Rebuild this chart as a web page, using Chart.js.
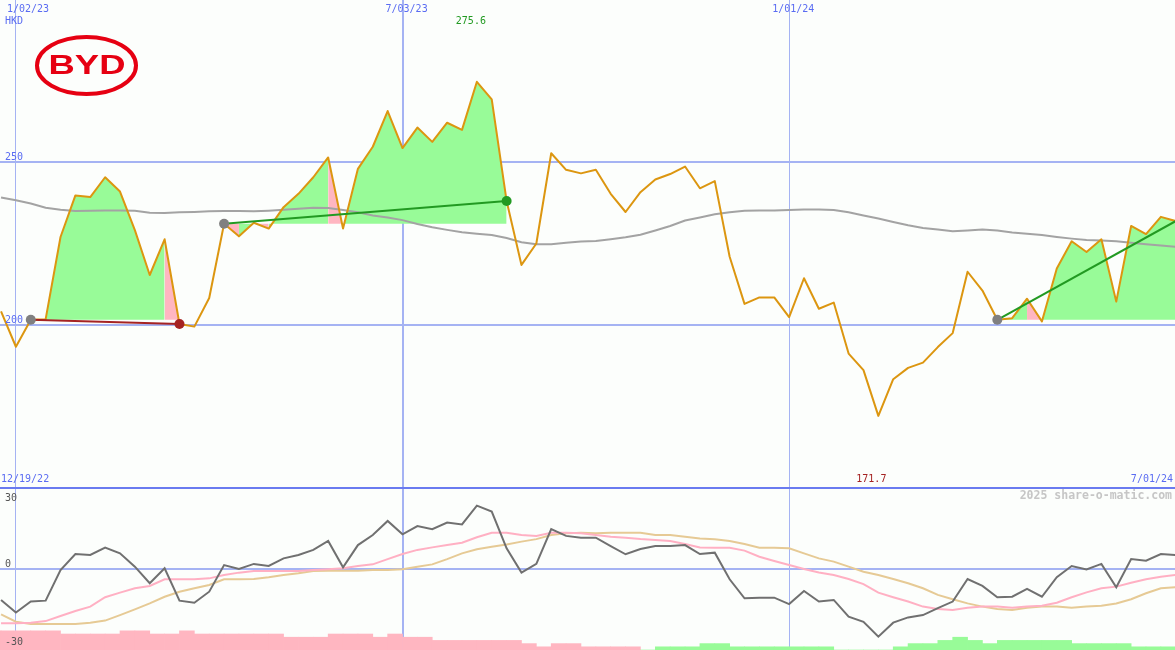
<!DOCTYPE html>
<html>
<head>
<meta charset="utf-8">
<script src="https://cdn.jsdelivr.net/npm/chart.js@4.4.1/dist/chart.umd.min.js"></script>
<style>
  html, body { margin: 0; padding: 0; background: #fcfefc; }
  #wrap { position: relative; width: 1175px; height: 650px; overflow: hidden; }
  #priceChart { position: absolute; left: 0; top: 0; }
  #oscChart { position: absolute; left: 0; top: 487px; }
</style>
</head>
<body>
<div id="wrap">
  <canvas id="priceChart" width="1175" height="487"></canvas>
  <canvas id="oscChart" width="1175" height="163"></canvas>
</div>
<script>
    // week index of first point (week 0 = 1/02/23), one point per week
    const firstWeek = -1;
    const histFirstWeek = -2;

    const closes = [
        204.1, 193.2, 201.5, 201.7, 227.0, 239.8, 239.3, 245.4, 241.0, 229.1,
        215.3, 226.3, 200.2, 199.4, 208.2, 231.1, 227.2, 231.4, 229.6, 236.2,
        240.3, 245.4, 251.5, 229.6, 248.0, 254.8, 265.8, 254.4, 260.7, 256.3,
        262.2, 260.0, 274.8, 269.4, 238.1, 218.4, 225.0, 252.8, 247.7, 246.6,
        247.7, 240.3, 234.7, 240.8, 244.7, 246.4, 248.7, 242.0, 244.2, 220.9,
        206.4, 208.4, 208.4, 202.3, 214.3, 204.9, 206.8, 191.1, 186.0, 171.9,
        183.2, 186.7, 188.3, 193.1, 197.4, 216.3, 210.5, 201.5, 202.0, 208.0,
        201.0, 217.3, 225.7, 222.4, 226.3, 207.1, 230.4, 227.9, 233.2, 231.9
    ];
    const movingAvg = [
        239.2, 238.3, 237.3, 236.0, 235.4, 235.0, 235.1, 235.2, 235.2, 235.1,
        234.5, 234.4, 234.6, 234.7, 234.9, 235.0, 235.0, 234.9, 235.1, 235.4,
        235.7, 236.0, 235.9, 235.3, 234.6, 233.6, 233.0, 232.2, 231.0, 230.0,
        229.2, 228.5, 228.0, 227.6, 226.7, 225.4, 224.8, 224.8, 225.2, 225.6,
        225.8, 226.3, 226.9, 227.7, 229.0, 230.4, 232.1, 233.0, 234.0, 234.6,
        235.1, 235.2, 235.2, 235.3, 235.5, 235.5, 235.3, 234.6, 233.6, 232.7,
        231.6, 230.6, 229.8, 229.3, 228.8, 229.0, 229.3, 229.0, 228.4, 228.0,
        227.6, 227.0, 226.5, 226.1, 225.9, 225.7, 225.2, 224.8, 224.4, 224.0
    ];
    const oscFast = [
        -13.7, -19.2, -14.4, -14.0, -0.7, 6.3, 5.9, 9.1, 6.6, 0.8,
        -6.4, 0.1, -14.0, -14.9, -10.1, 1.5, -0.2, 2.0, 1.1, 4.4,
        5.9, 8.1, 12.0, 0.5, 10.2, 14.6, 20.7, 14.9, 18.5, 17.1,
        20.0, 19.2, 27.4, 24.8, 8.8, -1.8, 2.0, 17.2, 14.2, 13.4,
        13.4, 9.8, 6.2, 8.5, 9.8, 9.8, 10.2, 6.3, 6.9, -4.7,
        -13.0, -12.7, -12.7, -15.5, -9.8, -14.4, -13.7, -21.0, -23.2, -29.7,
        -23.6, -21.3, -20.3, -17.3, -14.4, -4.6, -7.6, -12.5, -12.3, -8.9,
        -12.3, -3.8, 1.1, -0.4, 2.0, -8.2, 4.1, 3.4, 6.3, 5.9
    ];
    const oscMid = [
        -23.9, -23.9, -23.6, -22.9, -20.7, -18.5, -16.6, -12.5, -10.5, -8.6,
        -7.6, -4.7, -4.7, -4.7, -4.3, -2.8, -1.8, -1.1, -1.1, -1.1,
        -1.1, -0.7, -0.3, 0.1, 1.1, 1.8, 4.1, 6.3, 8.1, 9.2,
        10.2, 11.2, 13.6, 15.6, 15.6, 14.6, 14.2, 15.6, 15.6, 15.4,
        14.6, 13.8, 13.4, 12.8, 12.4, 12.0, 10.7, 9.2, 9.0, 9.0,
        7.8, 5.1, 3.3, 1.5, -0.2, -1.7, -2.8, -4.6, -6.8, -10.5,
        -12.5, -14.4, -16.6, -17.6, -18.1, -17.1, -16.6, -16.6, -17.1, -16.6,
        -16.2, -14.9, -12.5, -10.4, -8.6, -7.9, -6.2, -4.7, -3.6, -2.8
    ];
    const oscSlow = [
        -20.0, -23.2, -24.2, -24.2, -24.2, -24.2, -23.6, -22.7, -20.3, -17.8,
        -15.2, -12.3, -10.1, -8.6, -7.2, -4.7, -4.7, -4.6, -3.8, -2.8,
        -2.1, -1.1, -1.0, -1.0, -1.0, -0.7, -0.7, -0.3, 0.8, 1.8,
        4.1, 6.6, 8.4, 9.5, 10.5, 11.7, 12.8, 14.6, 15.3, 15.6,
        15.4, 15.6, 15.6, 15.6, 14.6, 14.6, 13.8, 13.1, 12.7, 12.0,
        10.7, 9.0, 9.0, 8.8, 6.6, 4.4, 3.0, 0.8, -1.4, -2.8,
        -4.6, -6.4, -8.6, -11.5, -13.4, -15.2, -16.6, -17.6, -18.1, -17.1,
        -16.6, -16.6, -17.1, -16.6, -16.2, -15.2, -13.4, -10.8, -8.6, -8.2
    ];
    // signed histogram levels (negative = pink, positive = green)
    const histBars = [
        -6, -6, -6, -6, -6, -5, -5, -5, -5, -6,
        -6, -5, -5, -6, -5, -5, -5, -5, -5, -5,
        -4, -4, -4, -5, -5, -5, -4, -5, -4, -4,
        -3, -3, -3, -3, -3, -3, -2, -1, -2, -2,
        -1, -1, -1, -1, 0, 1, 1, 1, 2, 2,
        1, 1, 1, 1, 1, 1, 1, 0, 0, 0,
        0, 1, 2, 2, 3, 4, 3, 2, 3, 3,
        3, 3, 3, 2, 2, 2, 2, 1, 1, 1
    ];

    const tradeStart = [1, 14, 66];
    const tradeEnd = [11, 33, 78];
    const tradeOpen = [false, false, true];

    const gridWeeks = [0, 26, 52];
    const gridDates = ['1/02/23', '7/03/23', '1/01/24'];
    const rangeDates = ['12/19/22', '7/01/24'];
    const priceGrid = [200, 250];
    const oscTicks = [30, 0, -30];
    const rangeHigh = 275.6, rangeLow = 171.7;

    const GRID = '#a5b3f3', BLUE_TXT = '#5a6cf2', GREEN = '#98fb98', PINK = '#ffb6c1';
    const UP = '#229a22', DOWN = '#a52323';
    const MONO = '"DejaVu Sans Mono", monospace';

    const toPts = (arr, start) => arr.map((v, i) => ({ x: i + start, y: v }));
    const priceAt = w => closes[w - firstWeek];

    const xScale = () => ({
        type: 'linear', min: -1.07, max: 77.95, offset: false,
        afterBuildTicks: s => { s.ticks = gridWeeks.map(v => ({ value: v })); },
        grid: { color: GRID, lineWidth: c => (c.tick && c.tick.value === 26 ? 2 : 1), drawTicks: false, offset: false },
        ticks: { display: false }, border: { display: false }
    });

    function drawLogo(ctx) {
        ctx.save();
        ctx.strokeStyle = '#e60012';
        ctx.lineWidth = 4;
        ctx.beginPath();
        ctx.ellipse(86.5, 65.5, 49.5, 28.5, 0, 0, Math.PI * 2);
        ctx.stroke();
        ctx.fillStyle = '#e60012';
        ctx.font = 'bold 28px "Liberation Sans", Arial, sans-serif';
        ctx.translate(87, 65);
        ctx.scale(1.3, 1);
        ctx.textAlign = 'center';
        ctx.textBaseline = 'middle';
        ctx.fillText('BYD', 0, 1);
        ctx.restore();
    }

    const priceLabels = {
        id: 'priceLabels',
        afterDraw(chart) {
            const { ctx, chartArea: a, scales: { x, y } } = chart;
            ctx.save();
            ctx.font = '10px ' + MONO;
            ctx.fillStyle = BLUE_TXT;
            ctx.textAlign = 'left';
            ctx.textBaseline = 'middle';
            gridDates.forEach((d, i) => {
                const px = x.getPixelForValue(gridWeeks[i]);
                ctx.fillText(d, Math.max(a.left + 7, px - 17), a.top + 9);
            });
            ctx.fillText('HKD', a.left + 5, a.top + 21);
            ctx.fillText(rangeDates[0], a.left + 1, a.bottom - 8);
            ctx.textAlign = 'right';
            ctx.fillText(rangeDates[1], a.right - 2, a.bottom - 8);

            ctx.textAlign = 'left';
            ctx.textBaseline = 'alphabetic';
            priceGrid.forEach(v => ctx.fillText(String(v), a.left + 5, y.getPixelForValue(v) - 2));

            const hiW = closes.indexOf(Math.max(...closes)) + firstWeek;
            const loW = closes.indexOf(Math.min(...closes)) + firstWeek;
            ctx.textAlign = 'center';
            ctx.textBaseline = 'middle';
            ctx.fillStyle = UP;
            ctx.fillText(rangeHigh.toFixed(1), x.getPixelForValue(hiW) - 6, a.top + 21);
            ctx.fillStyle = DOWN;
            ctx.fillText(rangeLow.toFixed(1), x.getPixelForValue(loW) - 7, a.bottom - 8);
            ctx.restore();
            drawLogo(ctx);
        }
    };

    const oscLabels = {
        id: 'oscLabels',
        afterDraw(chart) {
            const { ctx, chartArea: a, scales: { y } } = chart;
            ctx.save();
            ctx.strokeStyle = '#6a7bf0';
            ctx.lineWidth = 2;
            ctx.beginPath();
            ctx.moveTo(a.left, a.top + 1);
            ctx.lineTo(a.right, a.top + 1);
            ctx.stroke();
            ctx.font = '10px ' + MONO;
            ctx.fillStyle = '#555555';
            ctx.textAlign = 'left';
            oscTicks.forEach(v => {
                const py = y.getPixelForValue(v);
                if (v < 0) { ctx.textBaseline = 'top'; ctx.fillText(String(v), a.left + 5, py); }
                else { ctx.textBaseline = 'alphabetic'; ctx.fillText(String(v), a.left + 5, v > 0 ? py + 1 : py - 2); }
            });
            ctx.font = 'bold 11.5px ' + MONO;
            ctx.fillStyle = '#c6c6c6';
            ctx.textAlign = 'right';
            ctx.textBaseline = 'middle';
            ctx.fillText('2025 share-o-matic.com', a.right - 3, a.top + 9);
            ctx.restore();
        }
    };

    function renderPriceChart() {
        const fills = tradeStart.map((s, t) => {
            const base = priceAt(s);
            return {
                data: toPts(closes, firstWeek).filter(p => p.x >= s && p.x <= tradeEnd[t]),
                borderWidth: 0, borderColor: 'rgba(0,0,0,0)', pointRadius: 0,
                fill: { value: base }, backgroundColor: GREEN,
                segment: { backgroundColor: c => (c.p1.parsed.y < base ? PINK : GREEN) },
                order: 4
            };
        });
        const trends = tradeStart.map((s, t) => {
            const e = tradeEnd[t];
            return {
                data: [{ x: s, y: priceAt(s) }, { x: e, y: priceAt(e) }],
                borderColor: priceAt(e) >= priceAt(s) ? UP : DOWN,
                borderWidth: 2, pointRadius: 0, fill: false, order: 1
            };
        });
        const dots = [], dotColors = [];
        tradeStart.forEach((s, t) => {
            dots.push({ x: s, y: priceAt(s) });
            dotColors.push('#808080');
            if (!tradeOpen[t]) {
                const e = tradeEnd[t];
                dots.push({ x: e, y: priceAt(e) });
                dotColors.push(priceAt(e) >= priceAt(s) ? UP : DOWN);
            }
        });

        new Chart(document.getElementById('priceChart').getContext('2d'), {
            type: 'line',
            data: {
                datasets: [
                    ...fills,
                    { data: toPts(movingAvg, firstWeek), borderColor: '#a3a3a3', borderWidth: 2, pointRadius: 0, fill: false, order: 3 },
                    { data: toPts(closes, firstWeek), borderColor: '#dc9610', borderWidth: 2, pointRadius: 0, fill: false, borderJoinStyle: 'round', order: 2 },
                    ...trends,
                    { data: dots, showLine: false, pointRadius: 5, pointBorderWidth: 0, pointBackgroundColor: dotColors, pointBorderColor: dotColors, order: 0 }
                ]
            },
            options: {
                responsive: false, animation: false, devicePixelRatio: 1,
                layout: { padding: 0, autoPadding: false },
                elements: { line: { tension: 0 } },
                plugins: { legend: { display: false }, tooltip: { enabled: false } },
                scales: {
                    x: xScale(),
                    y: {
                        min: 150, max: 300,
                        afterBuildTicks: s => { s.ticks = priceGrid.map(v => ({ value: v })); },
                        grid: { color: GRID, lineWidth: 2, drawTicks: false },
                        ticks: { display: false }, border: { display: false }
                    }
                }
            },
            plugins: [priceLabels]
        });
    }

    function renderOscChart() {
        new Chart(document.getElementById('oscChart').getContext('2d'), {
            type: 'line',
            data: {
                datasets: [
                    { data: toPts(oscFast, firstWeek), borderColor: '#707070', borderWidth: 2, pointRadius: 0, fill: false, order: 1 },
                    { data: toPts(oscMid, firstWeek), borderColor: '#ffb0c3', borderWidth: 2, pointRadius: 0, fill: false, order: 2 },
                    { data: toPts(oscSlow, firstWeek), borderColor: '#e6ca95', borderWidth: 2, pointRadius: 0, fill: false, order: 3 },
                    {
                        type: 'bar', yAxisID: 'yh',
                        data: histBars.map((v, i) => ({ x: i + histFirstWeek + 0.5, y: Math.abs(v) })),
                        backgroundColor: histBars.map(v => (v < 0 ? PINK : GREEN)),
                        borderWidth: 0, barPercentage: 1, categoryPercentage: 1, order: 5
                    }
                ]
            },
            options: {
                responsive: false, animation: false, devicePixelRatio: 1,
                layout: { padding: 0, autoPadding: false },
                elements: { line: { tension: 0 } },
                plugins: { legend: { display: false }, tooltip: { enabled: false } },
                scales: {
                    x: xScale(),
                    y: {
                        min: -35.5, max: 35.5,
                        afterBuildTicks: s => { s.ticks = [{ value: 0 }]; },
                        grid: { color: GRID, lineWidth: 2, drawTicks: false },
                        ticks: { display: false }, border: { display: false }
                    },
                    yh: { type: 'linear', display: false, min: 0, max: 51 }
                }
            },
            plugins: [oscLabels]
        });
    }

    renderPriceChart();
    renderOscChart();
</script>
</body>
</html>
